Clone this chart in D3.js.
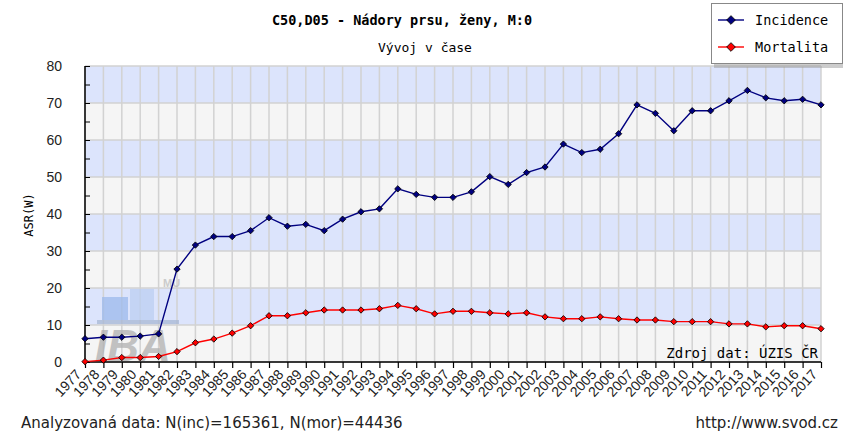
<html>
<head>
    <meta charset="UTF-8">
    <script src="https://d3js.org/d3.v7.min.js"></script>
    <title>C50,D05 - Nádory prsu</title>
    <style>
        body { margin: 0; background: #fff; }
    </style>
</head>
<body>
    <svg id="chart" width="843" height="435"></svg>
    <script>
        // data
        const years = d3.range(1977, 2018);
        const incidence = [6.3, 6.7, 6.7, 7.0, 7.6, 25.1, 31.6, 33.9, 33.9, 35.5,
            39.0, 36.7, 37.2, 35.5, 38.6, 40.6, 41.4, 46.8, 45.3, 44.5,
            44.5, 46.0, 50.1, 48.0, 51.2, 52.7, 58.9, 56.6, 57.5, 61.7,
            69.5, 67.2, 62.5, 67.9, 67.9, 70.6, 73.4, 71.4, 70.6, 71.0, 69.5];
        const mortalita = [0.1, 0.5, 1.2, 1.2, 1.5, 2.8, 5.2, 6.2, 7.8, 9.8,
            12.5, 12.5, 13.3, 14.05, 14.05, 14.05, 14.4, 15.3, 14.4, 13.0,
            13.7, 13.7, 13.3, 13.0, 13.3, 12.2, 11.7, 11.7, 12.2, 11.7,
            11.35, 11.35, 10.9, 10.9, 10.9, 10.3, 10.3, 9.5, 9.8, 9.8, 9.0];
        const yTicks = [0, 10, 20, 30, 40, 50, 60, 70, 80];
        const seriesNames = ['Incidence', 'Mortalita'];
        const seriesColors = ['#000080', '#ff0000'];

        const plotLeft = 85, plotRight = 821, plotTop = 66, plotBottom = 362;
        const svg = d3.select('#chart');

        const x = d3.scaleLinear().domain([1977, 2017]).range([plotLeft, plotRight]);
        const y = d3.scaleLinear().domain([0, 80]).range([plotBottom, plotTop]);

        // pruhy pozadí
        svg.selectAll('rect.band')
            .data(d3.range(0, 80, 10))
            .join('rect')
            .attr('class', 'band')
            .attr('x', plotLeft)
            .attr('width', plotRight - plotLeft)
            .attr('y', d => y(d + 10))
            .attr('height', d => y(d) - y(d + 10))
            .attr('fill', d => (d / 10) % 2 === 0 ? '#f5f5f5' : '#dce4fc');

        // mřížka
        svg.append('g')
            .selectAll('line')
            .data(years)
            .join('line')
            .attr('x1', d => x(d)).attr('x2', d => x(d))
            .attr('y1', plotTop).attr('y2', plotBottom)
            .attr('stroke', '#d2d2d2').attr('stroke-width', 1.5);
        svg.append('g')
            .selectAll('line')
            .data(yTicks)
            .join('line')
            .attr('x1', plotLeft).attr('x2', plotRight)
            .attr('y1', d => y(d)).attr('y2', d => y(d))
            .attr('stroke', '#d2d2d2').attr('stroke-width', 1.5);

        // vodoznak IBA MU
        const wm = svg.append('g').attr('opacity', 0.75);
        wm.append('rect').attr('x', 102).attr('y', 297).attr('width', 26).attr('height', 24).attr('fill', '#9dbaec');
        wm.append('rect').attr('x', 130).attr('y', 289).attr('width', 24).attr('height', 32).attr('fill', '#bccff2');
        wm.append('rect').attr('x', 97).attr('y', 320).attr('width', 82).attr('height', 4).attr('fill', '#a9b8d4');
        wm.append('text').attr('x', 95).attr('y', 361)
            .attr('font-family', 'Liberation Sans').attr('font-weight', 'bold').attr('font-style', 'italic')
            .attr('font-size', 44).attr('fill', '#b0b0b0').text('IBA');
        wm.append('text').attr('x', 163).attr('y', 287)
            .attr('font-family', 'Liberation Sans').attr('font-weight', 'bold')
            .attr('font-size', 11).attr('fill', '#bdbdbd').text('MU');

        // osy
        const yAxis = svg.append('g')
            .attr('transform', 'translate(' + plotLeft + ',0)')
            .call(d3.axisRight(y).tickValues(d3.range(0, 81, 5)).tickSize(5).tickFormat(''));
        yAxis.select('.domain').attr('stroke', '#000').attr('stroke-width', 1.5).attr('d', 'M0,' + plotTop + 'V' + plotBottom);
        yAxis.selectAll('.tick line').attr('stroke', '#000');

        svg.append('g')
            .selectAll('text')
            .data(yTicks)
            .join('text')
            .attr('x', 62)
            .attr('y', d => y(d) + 5)
            .attr('text-anchor', 'end')
            .attr('font-family', 'Liberation Sans, Arial')
            .attr('font-size', 14)
            .attr('fill', '#222')
            .text(d => d);

        const xAxis = svg.append('g')
            .attr('transform', 'translate(0,' + plotBottom + ')')
            .call(d3.axisBottom(x).tickValues(years).tickSize(6).tickFormat(''));
        xAxis.select('.domain').attr('stroke', '#000').attr('stroke-width', 1.5).attr('d', 'M' + plotLeft + ',0H' + plotRight);
        xAxis.selectAll('.tick line').attr('stroke', '#000').attr('stroke-width', 1.2);

        svg.append('g')
            .selectAll('text')
            .data(years)
            .join('text')
            .attr('transform', d => 'translate(' + (x(d) - 3) + ',' + (plotBottom + 13) + ') rotate(-47)')
            .attr('text-anchor', 'end')
            .attr('font-family', 'Liberation Sans, Arial')
            .attr('font-size', 14)
            .attr('fill', '#222')
            .text(d => d);

        // popisek osy y
        svg.append('text')
            .attr('transform', 'translate(33,215) rotate(-90)')
            .attr('text-anchor', 'middle')
            .attr('font-family', 'DejaVu Sans Mono')
            .attr('font-size', 12)
            .text('ASR(W)');

        // čáry a body
        const allSeries = [incidence, mortalita];
        const line = d3.line().x((d, i) => x(years[i])).y(d => y(d));
        const diamond = d3.symbol().type(d3.symbolSquare).size(20);

        allSeries.forEach(function (values, s) {
            svg.append('path')
                .datum(values)
                .attr('d', line)
                .attr('fill', 'none')
                .attr('stroke', seriesColors[s])
                .attr('stroke-width', 1.4);
            svg.append('g')
                .selectAll('path')
                .data(values)
                .join('path')
                .attr('d', diamond)
                .attr('transform', (d, i) => 'translate(' + x(years[i]) + ',' + y(d) + ') rotate(45)')
                .attr('fill', seriesColors[s])
                .attr('stroke', '#000')
                .attr('stroke-width', 0.8);
        });

        // titulky
        svg.append('text')
            .attr('x', 402).attr('y', 25)
            .attr('text-anchor', 'middle')
            .attr('font-family', 'DejaVu Sans Mono')
            .attr('font-weight', 'bold')
            .attr('font-size', 13.5)
            .text('C50,D05 - Nádory prsu, ženy, M:0');
        svg.append('text')
            .attr('x', 425).attr('y', 52)
            .attr('text-anchor', 'middle')
            .attr('font-family', 'DejaVu Sans Mono')
            .attr('font-size', 13)
            .text('Vývoj v čase');

        svg.append('text')
            .attr('x', 818).attr('y', 358)
            .attr('text-anchor', 'end')
            .attr('font-family', 'DejaVu Sans Mono')
            .attr('font-size', 14)
            .text('Zdroj dat: ÚZIS ČR');

        svg.append('text')
            .attr('x', 21).attr('y', 428)
            .attr('font-family', 'DejaVu Sans')
            .attr('font-size', 15)
            .attr('fill', '#222')
            .text('Analyzovaná data: N(inc)=165361, N(mor)=44436');
        svg.append('text')
            .attr('x', 838).attr('y', 428)
            .attr('text-anchor', 'end')
            .attr('font-family', 'DejaVu Sans')
            .attr('font-size', 15)
            .attr('fill', '#222')
            .text('http://www.svod.cz');

        // legenda
        const leg = svg.append('g').attr('transform', 'translate(711,3)');
        leg.append('rect').attr('x', 3).attr('y', 3).attr('width', 132).attr('height', 62).attr('fill', '#999').attr('opacity', 0.5);
        leg.append('rect').attr('x', 0.5).attr('y', 0.5).attr('width', 131).attr('height', 60)
            .attr('fill', '#fff').attr('stroke', '#888');
        seriesNames.forEach(function (name, s) {
            const ly = 17 + s * 27;
            leg.append('line').attr('x1', 7).attr('x2', 33).attr('y1', ly).attr('y2', ly)
                .attr('stroke', seriesColors[s]).attr('stroke-width', 1.4);
            leg.append('path').attr('d', d3.symbol().type(d3.symbolSquare).size(38))
                .attr('transform', 'translate(20,' + ly + ') rotate(45)')
                .attr('fill', seriesColors[s]).attr('stroke', '#000').attr('stroke-width', 0.8);
            leg.append('text').attr('x', 44).attr('y', ly + 5)
                .attr('font-family', 'DejaVu Sans Mono').attr('font-size', 13.5)
                .text(name);
        });
    </script>
</body>
</html>
